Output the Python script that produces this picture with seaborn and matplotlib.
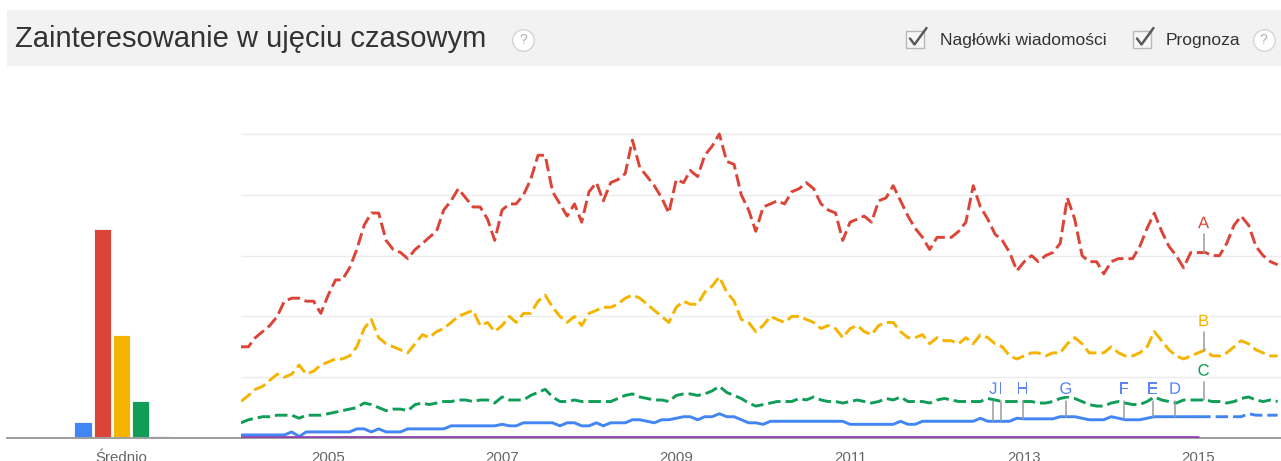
import numpy as np
import pandas as pd
import matplotlib
matplotlib.use('Agg')
import matplotlib.pyplot as plt
import matplotlib.dates as mdates
import matplotlib.patheffects as pe
from matplotlib.lines import Line2D
from matplotlib.patches import Rectangle
import seaborn as sns

# monthly interest, 2004-01 .. 2015-12 (0-100 scale)
months = pd.date_range('2004-01-01', periods=144, freq='MS')

red = [30, 30, 33, 35, 37, 40, 45, 46, 46, 45, 45, 41,
       47, 52, 52, 56, 62, 70, 74, 74, 65, 62, 61, 59,
       62, 64, 66, 68, 75, 78, 82, 79, 76, 76, 72, 65,
       75, 77, 77, 80, 85, 93, 93, 81, 77, 73, 77, 71,
       81, 84, 78, 84, 85, 87, 98, 89, 86, 83, 79, 74,
       85, 84, 88, 86, 93, 96, 100, 91, 90, 80, 75, 68,
       76, 77, 78, 77, 81, 82, 84, 82, 77, 75, 74, 65,
       71, 72, 73, 71, 78, 79, 83, 78, 73, 69, 66, 62,
       66, 66, 66, 68, 71, 83, 76, 72, 67, 65, 61, 55,
       58, 60, 58, 60, 61, 64, 79, 72, 60, 58, 58, 54,
       58, 59, 59, 59, 63, 69, 74, 68, 63, 60, 56, 61,
       61, 61, 60, 60, 64, 70, 73, 70, 63, 60, 58, 57]

yellow = [12, 14, 16, 17, 19, 21, 20, 21, 24, 21, 22, 24,
          25, 26, 26, 27, 30, 36, 39, 33, 31, 30, 29, 28,
          31, 34, 33, 35, 36, 38, 40, 41, 42, 37, 38, 35,
          37, 40, 38, 41, 41, 45, 47, 43, 40, 38, 40, 37,
          41, 42, 43, 43, 44, 46, 47, 46, 44, 42, 40, 38,
          43, 45, 44, 44, 48, 50, 53, 48, 45, 39, 38, 35,
          37, 40, 39, 38, 40, 40, 39, 38, 36, 37, 36, 33,
          36, 37, 35, 34, 37, 38, 38, 35, 33, 33, 34, 31,
          33, 32, 32, 31, 33, 31, 34, 33, 31, 30, 27, 26,
          27, 28, 28, 27, 28, 28, 31, 33, 31, 28, 28, 28,
          30, 28, 27, 27, 28, 30, 35, 32, 29, 27, 26, 27,
          28, 29, 27, 27, 28, 30, 32, 31, 29, 28, 27, 27]

green = [5, 6, 6.5, 7, 7, 7.5, 7.5, 7.5, 6.5, 7.5, 7.5, 7.5,
         8, 8.5, 9, 9.5, 10, 11.5, 11, 10, 9, 9.5, 9.5, 9,
         11, 11.5, 11, 11.5, 12, 12, 12.5, 12.5, 12, 12.5, 12.5, 11.5,
         13.5, 12.5, 12.5, 12.5, 14, 15, 16, 13.5, 12, 12, 12.5, 12,
         12, 12, 12, 12, 13, 14, 14.5, 13.5, 13, 12.5, 12.5, 12,
         14, 14.5, 14.5, 14, 14.5, 15.5, 17, 15, 14, 13, 11.5, 10.5,
         11, 11.5, 12, 12, 12, 13, 12.5, 13.5, 12.5, 12, 12, 11.5,
         12, 12.5, 12, 11.5, 12, 13, 12.5, 13.5, 12, 12, 12, 11.5,
         12.5, 13, 12.5, 12, 12, 12, 12, 13, 12.5, 12, 12, 12,
         12, 12, 11.5, 11.5, 12, 13, 13.5, 13, 12, 11, 10.5, 10.5,
         11.5, 12, 11.5, 11, 11, 12, 13.5, 12.5, 12, 11.5, 12.5, 12.5,
         12.5, 12.5, 12, 12, 11.5, 12, 13, 13.5, 12.5, 12, 12.5, 12]

blue = [1, 1, 1, 1, 1, 1, 1, 2, 0.5, 2, 2, 2,
        2, 2, 2, 2, 3, 3, 2, 3, 2, 2, 2, 3,
        3, 3, 3, 3, 3, 4, 4, 4, 4, 4, 4, 4,
        4.5, 4, 4, 5, 5, 5, 5, 5, 4, 5, 5, 4,
        4, 5, 4, 5, 5, 5, 6, 6, 5.5, 5, 6, 6,
        6.5, 7, 7, 6, 7, 7, 8, 7, 7, 6, 5, 5,
        4.5, 5.5, 5.5, 5.5, 5.5, 5.5, 5.5, 5.5, 5.5, 5.5, 5.5, 5.5,
        4.5, 4.5, 4.5, 4.5, 4.5, 4.5, 4.5, 5.5, 4.5, 4.5, 5.5, 5.5,
        5.5, 5.5, 5.5, 5.5, 5.5, 5.5, 6.5, 5.5, 5.5, 5.5, 5.5, 6.5,
        6.3, 6.3, 6.3, 6.3, 6.3, 7, 7, 7, 6.5, 6, 6, 6,
        7, 6.5, 6, 6, 6, 6.5, 7, 7, 7, 7, 7, 7,
        7, 7, 7, 7, 7, 7, 7, 8, 7.5, 7.5, 7.5, 7.5]

purple = [0.4] * 133          # flat near zero, ends 2015-01
forecast_from = 132           # blue forecast (dashed) from 2015-01

# averages (left bar panel)
series_names = ['blue', 'red', 'yellow', 'green', 'purple']
averages = [5.3, 68.8, 33.9, 12.2, 0.5]
colors = ['#4285f4', '#db4437', '#f4b400', '#0f9d58', '#8e44ad']

# news headline markers
news_letters = ['A', 'B', 'C', 'D', 'E', 'F', 'G', 'H', 'I', 'J']
news_dates = ['2015-01-24', '2015-01-24', '2015-01-24', '2014-09-26', '2014-06-24',
              '2014-02-24', '2013-06-25', '2012-12-25', '2012-09-24', '2012-08-24']
news_series = ['red', 'yellow', 'green', 'blue', 'blue', 'blue', 'blue', 'blue', 'blue', 'blue']

year_ticks = ['2005', '2007', '2009', '2011', '2013', '2015']

sns.set_style('white')
plt.rcParams['font.family'] = ['Liberation Sans', 'DejaVu Sans']

W, H = 1281, 461
fig = plt.figure(figsize=(W / 100, H / 100), dpi=100)


def fx(px):
    return px / W


def fy(py):
    return 1 - py / H


# header band
fig.patches.append(Rectangle((fx(7), fy(66)), fx(1281 - 7), 56 / H, transform=fig.transFigure,
                             facecolor='#f2f2f2', edgecolor='none', zorder=0))
fig.text(fx(15), fy(39), 'Zainteresowanie w ujęciu czasowym', fontsize=21, color='#333333', va='center')


def help_icon(px, py):
    fig.add_artist(Line2D([fx(px)], [fy(py)], marker='o', markersize=15.5, markerfacecolor='white',
                          markeredgecolor='#d4d4d4', markeredgewidth=1, transform=fig.transFigure))
    fig.text(fx(px), fy(py), '?', fontsize=10, color='#b0b0b0', ha='center', va='center')


def checkbox(px, py):
    fig.patches.append(Rectangle((fx(px), fy(py + 17)), 18 / W, 17 / H, transform=fig.transFigure,
                                 facecolor='#f7f7f7', edgecolor='#b8b8b8', lw=1))
    fig.add_artist(Line2D([fx(px + 4), fx(px + 8.5), fx(px + 20.5)],
                          [fy(py + 7), fy(py + 13), fy(py - 3.5)],
                          color='#5a5a5a', lw=1.8, transform=fig.transFigure))


help_icon(523, 40)
checkbox(906, 31.5)
fig.text(fx(940), fy(40), 'Nagłówki wiadomości', fontsize=12.5, color='#333333', va='center')
checkbox(1133, 31.5)
fig.text(fx(1166), fy(40), 'Prognoza', fontsize=12.5, color='#333333', va='center')
help_icon(1263.5, 40)

ymax = (438 - 118) / 3.04

# average bars
ax_bar = fig.add_axes([fx(7), fy(438), fx(245 - 7), (438 - 118) / H])
sns.barplot(x=series_names, y=averages, hue=series_names, palette=colors, width=0.9,
            saturation=1, legend=False, edgecolor='white', linewidth=0.6, ax=ax_bar)
ax_bar.set_xlim(-3.95, 8.42)
ax_bar.set_ylim(0, ymax)
ax_bar.set_xticks([2])
ax_bar.set_xticklabels(['Średnio'])
ax_bar.set_yticks([])
ax_bar.set_xlabel('')
ax_bar.set_ylabel('')
ax_bar.patch.set_alpha(0)

# time series
ax = fig.add_axes([fx(241), fy(438), fx(1281 - 241), (438 - 118) / H])
ax.patch.set_alpha(0)
dash = (0, (4.3, 1.7))
line_data = {'red': red, 'yellow': yellow, 'green': green, 'blue': blue}
color_of = dict(zip(series_names, colors))

sns.lineplot(x=months[:len(purple)], y=purple, color=color_of['purple'], lw=2, ax=ax, zorder=3)
sns.lineplot(x=months[:forecast_from + 1], y=blue[:forecast_from + 1], color=color_of['blue'], lw=2.1, ax=ax)
sns.lineplot(x=months[forecast_from:], y=blue[forecast_from:], color=color_of['blue'], lw=2.1,
             linestyle=dash, ax=ax)
for name in ['green', 'yellow', 'red']:
    sns.lineplot(x=months, y=line_data[name], color=color_of[name], lw=2.1, linestyle=dash, ax=ax)

# news markers
mnum = mdates.date2num(months)
halo = [pe.withStroke(linewidth=3, foreground='white')]
for letter, date, name in zip(news_letters, news_dates, news_series):
    xd = mdates.date2num(pd.Timestamp(date))
    v = np.interp(xd, mnum, line_data[name])
    if name == 'blue':
        y0, y1, yt = v, 12.3, 16.0
        tc = '#5c84f2'
    else:
        y0, y1, yt = v, v + 6, v + 9.5
        tc = color_of[name]
    ax.plot([xd, xd], [y0, y1], color='#9a9a9a', lw=1.1, zorder=4)
    ax.text(xd, yt, letter, color=tc, fontsize=12, ha='center', va='center',
            path_effects=halo, zorder=5)

ax.set_xlim(pd.Timestamp('2004-01-01'), pd.Timestamp('2004-01-01') + pd.Timedelta(days=4366))
ax.set_ylim(0, ymax)
ax.set_yticks([20, 40, 60, 80, 100])
ax.yaxis.grid(True, color='#ebebeb', lw=1)
ax.set_xticks([mdates.date2num(pd.Timestamp(f'{y}-01-01')) for y in year_ticks])
ax.set_xticklabels(year_ticks)
ax.set_xlabel('')
ax.set_ylabel('')

for a in (ax_bar, ax):
    for s in ('top', 'right', 'left'):
        a.spines[s].set_visible(False)
    a.spines['bottom'].set_color('#9e9e9e')
    a.spines['bottom'].set_linewidth(1.4)
    a.tick_params(axis='x', length=0, pad=9, labelsize=10.8, labelcolor='#666666')
    a.tick_params(axis='y', length=0, labelleft=False)

fig.savefig('out.png', dpi=100)
